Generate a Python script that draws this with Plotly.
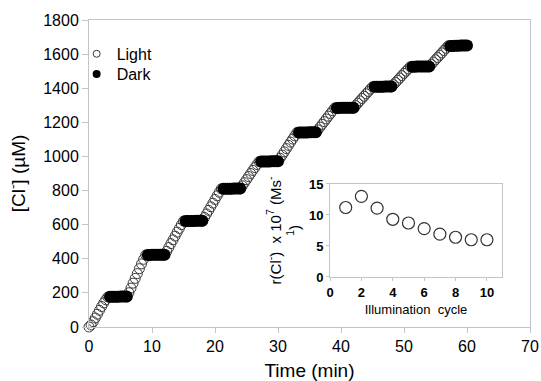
import plotly.graph_objects as go

# ---------------- data ----------------
step_min = 1 / 3  # sampling interval (min)
light_starts = [0, 6, 12, 18, 24, 30, 36, 42, 48, 54]
dark_starts = [3, 9, 15, 21, 27, 33, 39, 45, 51, 57]

light_vals = [
    [0, 12, 31, 53, 75, 98, 120, 141, 160, 176],
    [176, 201, 228, 257, 285, 313, 342, 370, 397, 422],
    [422, 444, 466, 489, 511, 533, 556, 578, 600, 621],
    [621, 642, 663, 684, 705, 726, 748, 769, 790, 810],
    [810, 828, 846, 864, 882, 900, 918, 935, 953, 970],
    [970, 989, 1008, 1027, 1046, 1065, 1084, 1102, 1121, 1140],
    [1140, 1156, 1172, 1188, 1204, 1220, 1236, 1252, 1268, 1284],
    [1284, 1298, 1312, 1326, 1340, 1353, 1367, 1381, 1395, 1408],
    [1408, 1421, 1434, 1447, 1460, 1474, 1487, 1500, 1513, 1526],
    [1526, 1540, 1553, 1567, 1580, 1594, 1607, 1621, 1634, 1648],
]
dark_vals = [
    [177, 177, 178, 178, 178, 179, 179, 179, 179],
    [422, 422, 423, 423, 423, 424, 424, 424, 424],
    [621, 621, 622, 622, 622, 623, 623, 623, 623],
    [810, 810, 811, 811, 811, 812, 812, 812, 812],
    [970, 970, 971, 971, 971, 972, 972, 972, 972],
    [1140, 1140, 1141, 1141, 1141, 1142, 1142, 1142, 1142],
    [1284, 1284, 1285, 1285, 1285, 1286, 1286, 1286, 1286],
    [1408, 1408, 1409, 1409, 1409, 1410, 1410, 1410, 1410],
    [1526, 1526, 1527, 1527, 1527, 1528, 1528, 1528, 1528],
    [1648, 1648, 1649, 1649, 1649, 1650, 1650, 1650, 1650],
]

cycles = [1, 2, 3, 4, 5, 6, 7, 8, 9, 10]
rate = [11.2, 13.0, 11.1, 9.3, 8.7, 7.8, 6.9, 6.4, 6.0, 6.0]

x_ticks = [0, 10, 20, 30, 40, 50, 60, 70]
y_ticks = [0, 200, 400, 600, 800, 1000, 1200, 1400, 1600, 1800]
inset_x_ticks = [0, 2, 4, 6, 8, 10]
inset_y_ticks = [0, 5, 10, 15]

# ---------------- build series ----------------
lt, ly = [], []
for s, vals in zip(light_starts, light_vals):
    for k, v in enumerate(vals):
        lt.append(s + k * step_min)
        ly.append(v)
dt, dy = [], []
for s, vals in zip(dark_starts, dark_vals):
    for k, v in enumerate(vals):
        dt.append(s + (k + 1) * step_min)
        dy.append(v)

FONT = "Arial, Liberation Sans, sans-serif"
AX = "#c4c4c4"

fig = go.Figure()
fig.add_trace(go.Scatter(
    x=lt, y=ly, mode="markers", showlegend=False, cliponaxis=False,
    marker=dict(symbol="circle-open", size=10, color="#3a3a3a", line=dict(width=1)),
))
fig.add_trace(go.Scatter(
    x=dt, y=dy, mode="markers", showlegend=False, cliponaxis=False,
    marker=dict(symbol="circle", size=12, color="black"),
))
# legend entries
fig.add_trace(go.Scatter(
    x=[None], y=[None], mode="markers", name="Light", legend="legend",
    marker=dict(symbol="circle", size=7, color="white", line=dict(width=1, color="#3a3a3a")),
))
fig.add_trace(go.Scatter(
    x=[None], y=[None], mode="markers", name="Dark", legend="legend2",
    marker=dict(symbol="circle", size=8, color="black"),
))
# inset
fig.add_trace(go.Scatter(
    x=cycles, y=rate, mode="markers", showlegend=False, xaxis="x2", yaxis="y2",
    cliponaxis=False,
    marker=dict(symbol="circle-open", size=12, color="#333333", line=dict(width=1.2)),
))

leg_common = dict(xanchor="left", yanchor="top", bgcolor="rgba(0,0,0,0)",
                  font=dict(size=16), itemwidth=30)

fig.update_layout(
    width=541, height=381,
    margin=dict(l=89, r=11, t=20, b=54, autoexpand=False),
    paper_bgcolor="white", plot_bgcolor="white",
    font=dict(family=FONT, color="black"),
    xaxis=dict(
        range=[0, 70], tickvals=x_ticks, showline=True, mirror=True, linecolor=AX,
        linewidth=1, ticks="outside", ticklen=5, tickcolor=AX, showgrid=False,
        zeroline=False, tickfont=dict(size=16), automargin=False,
        title=dict(text="Time (min)", font=dict(size=19), standoff=10),
    ),
    yaxis=dict(
        range=[0, 1800], tickvals=y_ticks, showline=True, mirror=True, linecolor=AX,
        linewidth=1, ticks="outside", ticklen=6, tickcolor=AX, showgrid=False,
        zeroline=False, tickfont=dict(size=16), automargin=False,
        title=dict(text="[Cl<sup>-</sup>] (µM)", font=dict(size=19), standoff=12),
    ),
    xaxis2=dict(
        domain=[0.5465, 0.9365], anchor="y2", range=[0, 10.96], tickvals=inset_x_ticks,
        showline=True, mirror=True, linecolor=AX, ticks="outside", ticklen=3,
        tickcolor=AX, showgrid=False, zeroline=False, automargin=False,
        tickfont=dict(size=13, weight="bold"),
        title=dict(text="Illumination  cycle", font=dict(size=13), standoff=6),
    ),
    yaxis2=dict(
        domain=[0.163, 0.466], anchor="x2", range=[0, 15], tickvals=inset_y_ticks,
        showline=True, mirror=True, linecolor=AX, ticks="outside", ticklen=3,
        tickcolor=AX, showgrid=False, zeroline=False, automargin=False,
        tickfont=dict(size=13, weight="bold"),
        title=dict(text="r(Cl<sup>-</sup>)  x 10<sup>7</sup> (Ms<sup>-</sup><br><sup>1</sup>)",
                   font=dict(size=15), standoff=4),
    ),
    legend=dict(x=-0.028, y=0.945, **leg_common),
    legend2=dict(x=-0.028, y=0.8795, **leg_common),
)

fig.write_html("out.html")
